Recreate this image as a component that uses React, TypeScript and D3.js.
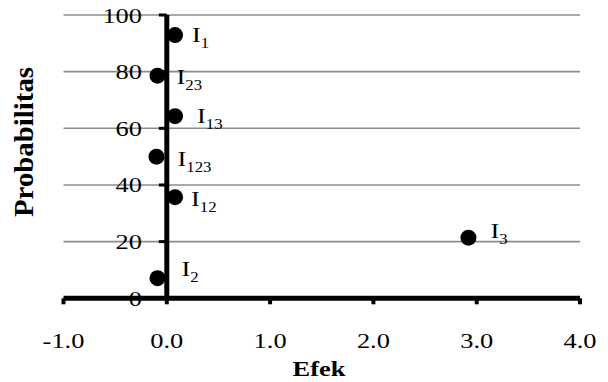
import React from "react";
import * as d3 from "d3";

const labels = ["I2", "I3", "I12", "I123", "I13", "I23", "I1"];
const subscripts = ["2", "3", "12", "123", "13", "23", "1"];
const effects = [-0.09, 2.92, 0.08, -0.1, 0.08, -0.09, 0.08];
const probabilities = [7.1, 21.4, 35.7, 50.0, 64.3, 78.6, 92.9];
const xTicks = [-1, 0, 1, 2, 3, 4];
const yTicks = [0, 20, 40, 60, 80, 100];
// label placement offsets (px) relative to marker, as placed in the original
const labelDx = [24, 22, 16, 21, 22, 19, 17];
const labelDy = [-2, 0, 9, 9, 7, 8, 7];

const W = 608;
const H = 382;
const SX = 1.2;
const FONT = "'Liberation Serif', 'Times New Roman', serif";
const fmt = (v: number) => d3.format(".1f")(v).replace("\u2212", "-");

export default function App() {
  const x = d3.scaleLinear().domain([-1, 4]).range([63.5, 580]);
  const y = d3.scaleLinear().domain([0, 100]).range([298.3, 15]);
  const x0 = x(0);
  const y0 = y(0);

  return (
    <svg
      width={W}
      height={H}
      style={{ position: "absolute", left: 0, top: 0, background: "#fff" }}
      fontFamily={FONT}
    >
      {/* gridlines */}
      {yTicks
        .filter((t) => t !== 0)
        .map((t) => (
          <line
            key={"g" + t}
            x1={x(-1)}
            x2={x(4)}
            y1={y(t)}
            y2={y(t)}
            stroke="#8c8c8c"
            strokeWidth={1.6}
          />
        ))}
      {/* y tick labels */}
      {yTicks.map((t) => (
        <text
          key={"yl" + t}
          transform={`translate(142,${y(t) + 7.5}) scale(${SX},1)`}
          textAnchor="end"
          fontSize={22}
          fill="#000"
        >
          {t}
        </text>
      ))}
      {/* x tick labels */}
      {xTicks.map((t) => (
        <text
          key={"xl" + t}
          transform={`translate(${x(t)},348) scale(${SX},1)`}
          textAnchor="middle"
          fontSize={22}
          fill="#000"
        >
          {fmt(t)}
        </text>
      ))}
      {/* axes */}
      <line x1={x(-1)} x2={x(4)} y1={y0} y2={y0} stroke="#000" strokeWidth={5} />
      <line x1={x0} x2={x0} y1={y(100)} y2={y0} stroke="#000" strokeWidth={5} />
      {yTicks.map((t) => (
        <line
          key={"yt" + t}
          x1={x0 - 8}
          x2={x0}
          y1={y(t)}
          y2={y(t)}
          stroke="#000"
          strokeWidth={3}
        />
      ))}
      {xTicks.map((t) => (
        <line
          key={"xt" + t}
          x1={x(t)}
          x2={x(t)}
          y1={y0}
          y2={y0 + 6}
          stroke="#000"
          strokeWidth={4}
        />
      ))}
      {/* points */}
      {labels.map((l, i) => (
        <circle
          key={"p" + l}
          cx={x(effects[i])}
          cy={y(probabilities[i])}
          r={8}
          fill="#000"
        />
      ))}
      {/* point labels */}
      {labels.map((l, i) => (
        <text
          key={"t" + l}
          transform={`translate(${x(effects[i]) + labelDx[i]},${
            y(probabilities[i]) + labelDy[i]
          }) scale(${SX},1)`}
          fontSize={22}
          fill="#000"
        >
          I
          <tspan fontSize={14} dy={6}>
            {subscripts[i]}
          </tspan>
        </text>
      ))}
      {/* axis titles */}
      <text
        transform={`translate(319,376) scale(${SX},1)`}
        textAnchor="middle"
        fontSize={22}
        fontWeight="bold"
        fill="#000"
      >
        Efek
      </text>
      <text
        transform={`translate(33,142) scale(${SX},1) rotate(-90)`}
        textAnchor="middle"
        fontSize={22}
        fontWeight="bold"
        fill="#000"
        textLength={150}
        lengthAdjust="spacingAndGlyphs"
      >
        Probabilitas
      </text>
    </svg>
  );
}
